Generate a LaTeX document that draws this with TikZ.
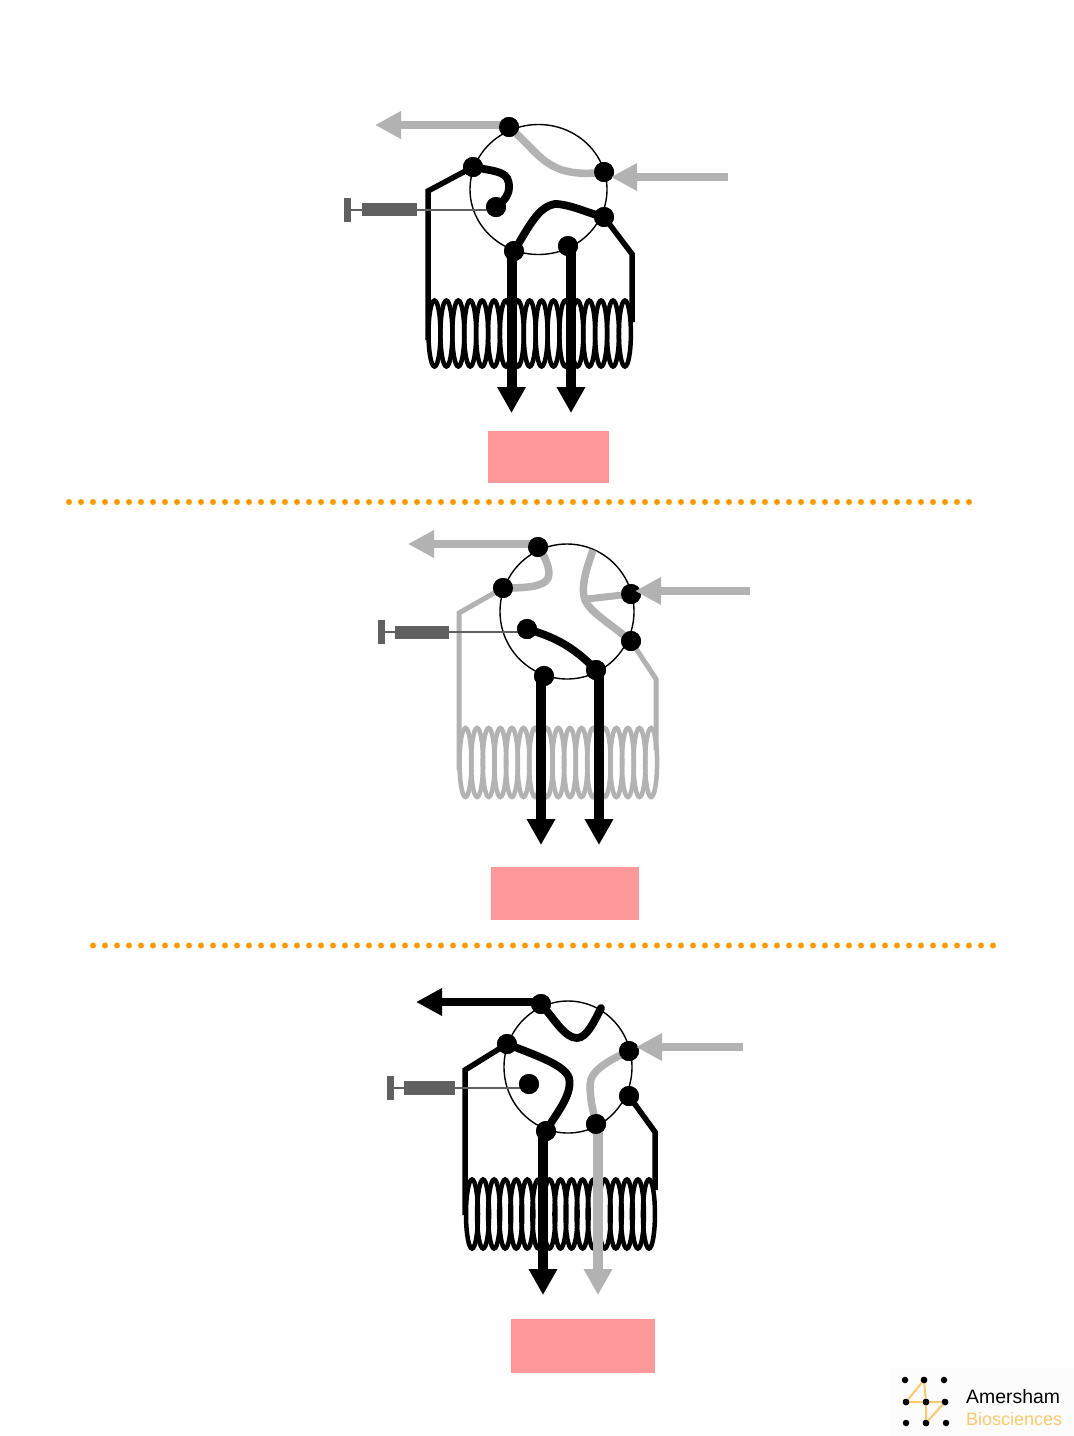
\documentclass[tikz,border=0pt]{standalone}
\usepackage{fontspec}
\setmainfont{Liberation Sans}
\usetikzlibrary{arrows.meta}
\definecolor{tube}{HTML}{B2B2B2}
\definecolor{syr}{HTML}{606060}
\definecolor{pinkbox}{HTML}{FF9999}
\definecolor{dotorange}{HTML}{FF9900}
\definecolor{logoorange}{HTML}{F8CA70}
\tikzset{
  port/.style={circle,fill=black,inner sep=0pt,minimum size=20pt},
  valve/.style={draw=black,line width=1.4pt},
  flowk/.style={draw=black,line width=7.8pt,line cap=round},
  flowg/.style={draw=tube,line width=7.5pt,line cap=round},
  tubek/.style={draw=black,line width=5.5pt,line join=miter},
  tubeg/.style={draw=tube,line width=5pt,line join=miter},
  bigk/.style={draw=black,line width=10pt,-{Triangle[length=26pt,width=27pt]}},
  bigg/.style={draw=tube,line width=10pt,-{Triangle[length=26pt,width=27pt]}},
  sidek/.style={draw=black,line width=8.5pt,-{Triangle[length=26pt,width=26pt]}},
  sideg/.style={draw=tube,line width=8.5pt,-{Triangle[length=26pt,width=26pt]}},
  syrline/.style={draw=syr,line width=1.5pt},
  syrpart/.style={fill=syr,draw=none,inner sep=0pt},
  pinkrect/.style={fill=pinkbox,draw=none,inner sep=0pt},
  dotmark/.style={fill=dotorange,draw=none},
  logodot/.style={circle,fill=black,inner sep=0pt,minimum size=6.5pt},
  logoline/.style={draw=logoorange,line width=2pt},
  coilk/.style={draw=black,line width=4.5pt},
  coilg/.style={draw=tube,line width=4.5pt},
}
% colour style, first x, spacing, centre y, y radius
\newcommand{\mycoil}[5]{\foreach \i in {0,...,16}{\draw[#1] ({#2+\i*#3},#4) ellipse (6 and #5);}}
% bar x1,y1,x2,y2 as a filled box with a name
\newcommand{\mybox}[6]{\node[#1,anchor=north west,minimum width={(#4-#2)*1pt},minimum height={(#5-#3)*1pt}] (#6) at (#2,#3) {};}
\begin{document}
\begin{tikzpicture}[x=1pt,y=-1pt]
\useasboundingbox (0,0) rectangle (1074,1436);
\fill[white] (0,0) rectangle (1074,1436);
\fill[black!1] (890,1368) rectangle (1074,1436);

% ---------- separators
\foreach \i in {0,...,75}{\fill[dotmark] ({69+\i*12},502) circle (3);}
\foreach \i in {0,...,75}{\fill[dotmark] ({93+\i*12},945.5) circle (3);}

% ---------- panel 1
\draw[valve] (538.5,189.5) ellipse (68.5 and 65);
\mycoil{coilk}{434.5}{11.9}{333.5}{33}
\node[port] (a1) at (509,127) {};
\node[port] (b1) at (473,167) {};
\node[port] (c1) at (604,172) {};
\node[port] (d1) at (604,217) {};
\node[port] (e1) at (514,251) {};
\node[port] (f1) at (568,246) {};
\node[port] (g1) at (496,207) {};
\coordinate (tl1) at (428,191);
\coordinate (tle1) at (428,340);
\coordinate (tr1) at (632,254);
\coordinate (tre1) at (632,322);
\coordinate (outa1) at (375,125);
\coordinate (ina1) at (728,177);
\coordinate (oe1) at (511.5,413);
\coordinate (of1) at (571,413);
\coordinate (se1) at (511.5,251);
\coordinate (sf1) at (571,246);
\coordinate (sa1) at (509,125);
\coordinate (sc1) at (611,177);
\draw[flowg] (a1.center) .. controls (535,150) and (540,162) .. (562,170) .. controls (575,174) and (590,174) .. (c1.center);
\draw[flowk] (b1.center) .. controls (500,172) and (509,172) .. (509,187) .. controls (509,195) and (505,200) .. (g1.center);
\draw[flowk] (e1.center) .. controls (530,225) and (538,207) .. (555,204) .. controls (570,204) and (590,214) .. (d1.center);
\draw[tubek] (b1.center) -- (tl1) -- (tle1);
\draw[tubek] (d1.center) -- (tr1) -- (tre1);
\mybox{syrpart}{344}{198}{351}{222}{tb1}
\mybox{syrpart}{362}{203}{417}{216}{sb1}
\draw[syrline] (tb1.east) -- (g1 |- tb1.east);
\draw[sideg] (sa1) -- (outa1);
\draw[bigk] (se1) -- (oe1);
\draw[bigk] (sf1) -- (of1);
\node[port] at (a1) {};
\node[port] at (b1) {};
\node[port] at (c1) {};
\node[port] at (d1) {};
\node[port] at (e1) {};
\node[port] at (f1) {};
\node[port] at (g1) {};
\draw[sideg] (ina1) -- (sc1);
\mybox{pinkrect}{488}{431}{609}{483}{p1}

% ---------- panel 2
\draw[valve] (567,611.5) ellipse (67 and 67.5);
\mycoil{coilg}{465.5}{11.6}{762.5}{34.5}
\node[port] (a2) at (538,547) {};
\node[port] (b2) at (503,588) {};
\node[port] (c2) at (631,594) {};
\node[port] (d2) at (631,641) {};
\node[port] (e2) at (544,676) {};
\node[port] (f2) at (596,670) {};
\node[port] (g2) at (527,629) {};
\coordinate (s2) at (593,550);
\coordinate (j2) at (587,599);
\coordinate (tl2) at (459,613);
\coordinate (tle2) at (459,770);
\coordinate (tr2) at (656,679);
\coordinate (tre2) at (656,750);
\coordinate (outa2) at (408,544);
\coordinate (ina2) at (750,591);
\coordinate (sa2) at (538,544);
\coordinate (sc2) at (635,591);
\coordinate (oe2) at (541,845);
\coordinate (of2) at (599,845);
\coordinate (se2) at (541,676);
\coordinate (sf2) at (599,670);
\draw[flowg] (a2.center) .. controls (546,558) and (551,570) .. (548,578) .. controls (544,587) and (525,588) .. (b2.center);
\draw[draw=tube,line width=7.5pt] (s2) .. controls (588,565) and (580,585) .. (585,600) .. controls (590,612) and (608,622) .. (d2.center);
\draw[draw=tube,line width=7pt] (c2.center) -- (j2);
\draw[tubeg] (b2.center) -- (tl2) -- (tle2);
\draw[tubeg] (d2.center) -- (tr2) -- (tre2);
\draw[flowk] (g2.center) .. controls (550,636) and (570,643) .. (f2.center);
\mybox{syrpart}{378}{620}{385}{644}{tb2}
\mybox{syrpart}{395}{626}{449}{639}{sb2}
\draw[syrline] (tb2.east) -- (g2 |- tb2.east);
\draw[sideg] (sa2) -- (outa2);
\draw[bigk] (se2) -- (oe2);
\draw[bigk] (sf2) -- (of2);
\node[port] at (a2) {};
\node[port] at (b2) {};
\node[port] at (c2) {};
\node[port] at (d2) {};
\node[port] at (e2) {};
\node[port] at (f2) {};
\node[port] at (g2) {};
\draw[sideg] (ina2) -- (sc2);
\mybox{pinkrect}{491}{867}{639}{920}{p2}

% ---------- panel 3
\draw[valve] (568,1067) ellipse (64 and 66);
\mycoil{coilk}{472}{11.06}{1214}{34.5}
\node[port] (a3) at (541,1004) {};
\node[port] (b3) at (507,1044) {};
\node[port] (c3) at (629,1051) {};
\node[port] (d3) at (629,1096) {};
\node[port] (e3) at (546,1131) {};
\node[port] (f3) at (596,1124) {};
\node[port] (g3) at (529,1084) {};
\coordinate (s3) at (601,1008);
\coordinate (tl3) at (465,1070);
\coordinate (tle3) at (465,1215);
\coordinate (tr3) at (655,1132);
\coordinate (tre3) at (655,1190);
\coordinate (outa3) at (416,1002);
\coordinate (ina3) at (743,1047);
\coordinate (sa3) at (541,1002);
\coordinate (sc3) at (636,1047);
\coordinate (oe3) at (543,1295);
\coordinate (of3) at (598,1295);
\coordinate (se3) at (543,1131);
\coordinate (sf3) at (598,1124);
\draw[flowk] (a3.center) .. controls (555,1020) and (565,1038) .. (577,1038) .. controls (587,1038) and (595,1020) .. (s3);
\draw[flowk] (b3.center) .. controls (535,1055) and (565,1065) .. (569,1078) .. controls (573,1095) and (555,1115) .. (e3.center);
\draw[flowg] (c3.center) .. controls (610,1060) and (590,1070) .. (590,1085) .. controls (590,1100) and (593,1110) .. (f3.center);
\draw[tubek] (b3.center) -- (tl3) -- (tle3);
\draw[tubek] (d3.center) -- (tr3) -- (tre3);
\mybox{syrpart}{387}{1076}{394}{1100}{tb3}
\mybox{syrpart}{404}{1081}{455}{1095}{sb3}
\draw[syrline] (tb3.east) -- (g3 |- tb3.east);
\draw[sidek] (sa3) -- (outa3);
\draw[bigk] (se3) -- (oe3);
\draw[bigg] (sf3) -- (of3);
\node[port] at (a3) {};
\node[port] at (b3) {};
\node[port] at (c3) {};
\node[port] at (d3) {};
\node[port] at (e3) {};
\node[port] at (f3) {};
\node[port] at (g3) {};
\draw[sideg] (ina3) -- (sc3);
\mybox{pinkrect}{511}{1319}{655}{1373}{p3}

% ---------- logo
\node[logodot] (l11) at (905,1380) {};
\node[logodot] (l12) at (924,1380) {};
\node[logodot] (l13) at (944,1380) {};
\node[logodot] (l21) at (906,1402) {};
\node[logodot] (l22) at (926,1402) {};
\node[logodot] (l23) at (945,1402) {};
\node[logodot] (l31) at (906,1423) {};
\node[logodot] (l32) at (926,1423) {};
\node[logodot] (l33) at (946,1423) {};
\draw[logoline] (l12.center) -- (l21.center) -- (l23.center) -- (l32.center) -- (l22.center) -- (l12.center);
\node[logodot] at (l12) {};
\node[logodot] at (l21) {};
\node[logodot] at (l22) {};
\node[logodot] at (l23) {};
\node[logodot] at (l32) {};
\node[anchor=base west,inner sep=0pt,font=\fontsize{19.4}{20}\selectfont] (amer) at (966,1403) {Amersham};
\node[anchor=base west,inner sep=0pt,text=logoorange,font=\fontsize{18}{20}\selectfont] (bio) at (966,1425) {Biosciences};
\end{tikzpicture}
\end{document}
